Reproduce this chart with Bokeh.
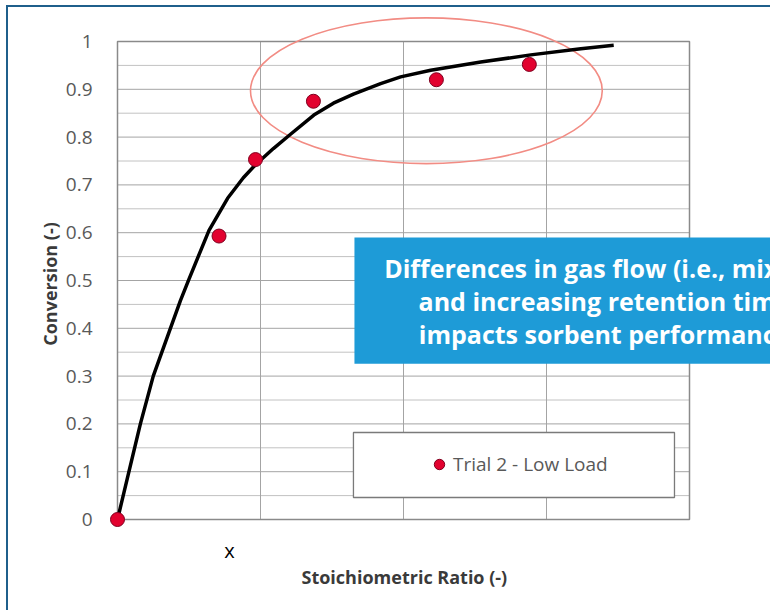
from bokeh.plotting import figure
from bokeh.models import Range1d, FixedTicker, Label, Legend, LegendItem, Title
from bokeh.embed import file_html
from bokeh.resources import INLINE

# ---- data ----
ratio = [0, 0.71, 0.965, 1.37, 2.23, 2.88]
conversion = [0, 0.593, 0.753, 0.875, 0.92, 0.952]

fit_ratio = [0, 0.08, 0.16, 0.25, 0.37, 0.44, 0.50, 0.64, 0.77, 0.88, 0.965, 1.09, 1.21,
             1.373, 1.51, 1.65, 1.84, 1.98, 2.19, 2.54, 2.89, 3.24, 3.47]
fit_conversion = [0, 0.1, 0.2, 0.3, 0.4, 0.458, 0.503, 0.605, 0.672, 0.715, 0.742, 0.776, 0.806,
                  0.846, 0.871, 0.89, 0.912, 0.926, 0.94, 0.957, 0.972, 0.985, 0.992]

y_ticks = [0, 0.1, 0.2, 0.3, 0.4, 0.5, 0.6, 0.7, 0.8, 0.9, 1]
y_tick_labels = ["0", "0.1", "0.2", "0.3", "0.4", "0.5", "0.6", "0.7", "0.8", "0.9", "1"]
y_minor = [0.05, 0.15, 0.25, 0.35, 0.45, 0.55, 0.65, 0.75, 0.85, 0.95]
x_major = [1, 2, 3]

series_name = "Trial 2 - Low Load"
callout_text = "Differences in gas flow (i.e., mixing)\nand increasing retention time\nimpacts sorbent performance"
x_title = "Stoichiometric Ratio (-)"
y_title = "Conversion (-)"

X_MIN, X_MAX = 0, 4
Y_MIN, Y_MAX = 0, 1

# ---- layout (pixels) ----
PX_X = 143.0          # pixels per x unit
PX_Y = 478.0          # pixels per y unit
FRAME_LEFT = 95
FRAME_W = 667
FRAME_H = 553
ZERO_X = 109          # canvas x of x=0
ONE_Y = 34            # canvas y of y=1

x_start = -(ZERO_X - FRAME_LEFT) / PX_X
x_end = x_start + FRAME_W / PX_X
y_end = 1 + ONE_Y / PX_Y
y_start = y_end - FRAME_H / PX_Y

p = figure(frame_width=FRAME_W, frame_height=FRAME_H,
           x_range=Range1d(x_start, x_end), y_range=Range1d(y_start, y_end),
           output_backend="svg", toolbar_location=None,
           min_border_left=FRAME_LEFT, min_border_right=0, min_border_top=0, min_border_bottom=50,
           background_fill_color="white", border_fill_color="white")
p.styles = {"border-top": "2px solid #1F5F8B", "border-left": "2px solid #1F5F8B",
            "margin-left": "6px", "margin-top": "5px"}
p.outline_line_color = None
p.xgrid.visible = False
p.ygrid.visible = False

# gridlines inside the plot area
p.segment(x0=X_MIN, x1=X_MAX, y0=y_minor, y1=y_minor, line_color="#c2c2c2", line_width=1)
p.segment(x0=X_MIN, x1=X_MAX, y0=y_ticks, y1=y_ticks, line_color="#a4a4a4", line_width=1)
p.segment(x0=x_major, x1=x_major, y0=Y_MIN, y1=Y_MAX, line_color="#a4a4a4", line_width=1)
p.quad(left=X_MIN, right=X_MAX, bottom=Y_MIN, top=Y_MAX, fill_color=None,
       line_color="#8a8a8a", line_width=1.5)

# legend box
p.quad(left=1.65, right=3.895, bottom=0.046, top=0.182, fill_color="white",
       line_color="#7a7a7a", line_width=1.3)

# callout box (runs off the right edge)
p.quad(left=1.657, right=x_end + 1, bottom=0.326, top=0.59, fill_color="#1E9BD7",
       line_color=None)

# highlight ellipse
p.ellipse(x=2.16, y=0.897, width=2.46, height=0.305, fill_color=None,
          line_color="#F28C84", line_width=1.6)

# fitted curve
p.line(fit_ratio, fit_conversion, line_color="black", line_width=3.5, line_join="round")

# data points
sc = p.scatter(ratio, conversion, size=14, fill_color="#E2022F", line_color="#80001f", line_width=1)

# axes
xa = p.xaxis[0]
xa.ticker = FixedTicker(ticks=[])
xa.major_label_text_font_size = "0px"
xa.axis_line_color = None
xa.major_tick_line_color = None
xa.minor_tick_line_color = None

ya = p.yaxis[0]
ya.ticker = FixedTicker(ticks=y_ticks)
ya.major_label_overrides = dict(zip(y_ticks, y_tick_labels))
ya.major_label_text_font = "Open Sans"
ya.major_label_text_font_size = "19px"
ya.major_label_text_color = "#595959"
ya.axis_line_color = None
ya.major_tick_line_color = None
ya.minor_tick_line_color = None
ya.major_label_standoff = 5
ya.axis_label = y_title
ya.axis_label_text_font = "Open Sans"
ya.axis_label_text_font_style = "bold"
ya.axis_label_text_font_size = "18px"
ya.axis_label_text_color = "#3a3a3a"
ya.axis_label_standoff = 1

p.add_layout(Title(text=x_title, align="left", offset=198, standoff=4,
                   text_font="Open Sans", text_font_style="bold", text_font_size="18px",
                   text_color="#3a3a3a"), "below")

legend = Legend(items=[LegendItem(label=series_name, renderers=[sc])],
                location=(323, 83), border_line_color=None, background_fill_alpha=0,
                padding=0, margin=0, spacing=0,
                label_text_font="Open Sans", label_text_font_size="19px",
                label_text_color="#595959", glyph_width=26, glyph_height=26,
                label_standoff=1)
p.add_layout(legend)

callout = Label(x=3.406, y=0.458, text=callout_text, text_align="center",
                text_baseline="middle", text_font="Open Sans", text_font_style="bold",
                text_font_size="25px", text_color="white", text_line_height=0.97)
p.add_layout(callout)

mark = Label(x=0.783, y=-0.064, text="x", text_align="center", text_baseline="middle",
             text_font="Open Sans", text_font_size="20px", text_color="black")
p.add_layout(mark)

open("out.html", "w").write(file_html(p, INLINE))
